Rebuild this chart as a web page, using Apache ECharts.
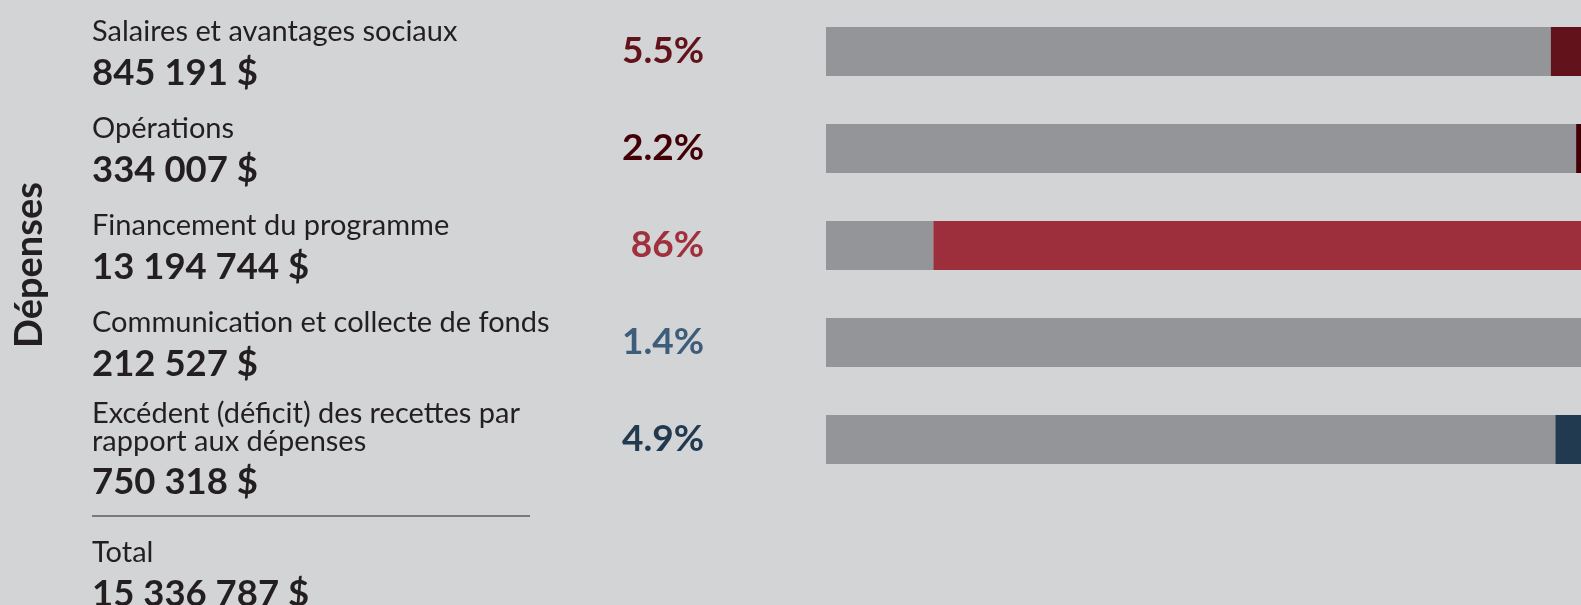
<!DOCTYPE html>
<html>
<head>
<meta charset="utf-8">
<script src="https://cdn.jsdelivr.net/npm/echarts@6/dist/echarts.min.js"></script>
<style>
html,body{margin:0;padding:0;background:#d3d4d6;}
#chart{width:1581px;height:605px;}
</style>
</head>
<body>
<div id="chart"></div>
<script>
// ---- data ----
const categories = [
  'Salaires et avantages sociaux',
  'Opérations',
  'Financement du programme',
  'Communication et collecte de fonds',
  'Excédent (déficit) des recettes par\nrapport aux dépenses'
];
const amounts = ['845 191 $', '334 007 $', '13 194 744 $', '212 527 $', '750 318 $'];
const percents = [5.5, 2.2, 86, 1.4, 4.9];
const percentLabels = ['5.5%', '2.2%', '86%', '1.4%', '4.9%'];
const axisTitle = 'Dépenses';
const totalLabel = 'Total';
const totalAmount = '15 336 787 $';

// ---- layout / styles ----
const barColors = ['#62121a', '#420006', '#9c2f3b', '#3d5d7a', '#223a50'];
const pctColors = ['#62121a', '#420006', '#a0303c', '#3d5d7a', '#223a50'];
const trackColor = '#949599';
const textColor = '#231f20';
const FONT = 'Lato, "Open Sans", sans-serif';
// full bar track is wider than what the canvas shows
const GRID_LEFT = 826, CHART_W = 1581, TRACK_W = 767;
const X_MAX_VISIBLE = 100 * (CHART_W - GRID_LEFT) / TRACK_W;

const chart = echarts.init(document.getElementById('chart'));

const remainder = percents.map(p => 100 - p);

function leftLabel(value, idx) {
  const lines = categories[idx].split('\n');
  if (lines.length === 1) {
    return '{a|' + lines[0] + '}\n{b|' + amounts[idx] + '}\n{c| }';
  }
  return lines.map(l => '{a2|' + l + '}').join('\n') + '\n{b|' + amounts[idx] + '}\n{d| }';
}

chart.setOption({
  backgroundColor: '#d3d4d6',
  animation: false,
  grid: {left: GRID_LEFT, right: 0, top: 3, height: 485},
  xAxis: {type: 'value', min: 0, max: X_MAX_VISIBLE, show: false},
  yAxis: {
    type: 'category',
    inverse: true,
    data: categories,
    axisLine: {show: false},
    axisTick: {show: false},
    axisLabel: {
      interval: 0,
      showMinLabel: true,
      showMaxLabel: true,
      hideOverlap: false,
      align: 'left',
      margin: 734,
      verticalAlign: 'middle',
      padding: [44, 0, 0, 0],
      formatter: leftLabel,
      rich: {
        a: {fontFamily: FONT, fontSize: 29, lineHeight: 30, color: textColor},
        a2: {fontFamily: FONT, fontSize: 29, lineHeight: 28, color: textColor},
        b: {fontFamily: FONT, fontSize: 36.5, fontWeight: 'bold', lineHeight: 53, color: textColor},
        c: {fontFamily: FONT, fontSize: 10, lineHeight: 30},
        d: {fontFamily: FONT, fontSize: 10, lineHeight: 15}
      }
    }
  },
  series: [
    {
      type: 'bar',
      stack: 'total',
      barWidth: 49,
      silent: true,
      clip: true,
      itemStyle: {color: trackColor},
      data: remainder.map((v, i) => ({
        value: v,
        label: {color: pctColors[i]}
      })),
      label: {
        show: true,
        position: 'left',
        distance: 122,
        fontFamily: FONT,
        fontSize: 37,
        fontWeight: 'bold',
        formatter: p => percentLabels[p.dataIndex]
      }
    },
    {
      type: 'bar',
      stack: 'total',
      barWidth: 49,
      silent: true,
      clip: true,
      data: percents.map((v, i) => ({value: v, itemStyle: {color: barColors[i]}}))
    }
  ],
  graphic: [
    {
      type: 'text',
      x: 30, y: 265,
      rotation: Math.PI / 2,
      style: {
        text: axisTitle,
        fontFamily: FONT, fontSize: 38, fontWeight: 'bold',
        fill: textColor, align: 'center', verticalAlign: 'middle'
      }
    },
    {
      type: 'line',
      shape: {x1: 92, y1: 516, x2: 530, y2: 516},
      style: {stroke: '#5d5d5f', lineWidth: 1.5}
    },
    {
      type: 'text',
      x: 92, y: 553,
      style: {
        text: totalLabel, fontFamily: FONT, fontSize: 29,
        fill: textColor, align: 'left', verticalAlign: 'middle'
      }
    },
    {
      type: 'text',
      x: 92, y: 594,
      style: {
        text: totalAmount, fontFamily: FONT, fontSize: 36.5, fontWeight: 'bold',
        fill: textColor, align: 'left', verticalAlign: 'middle'
      }
    }
  ]
});
</script>
</body>
</html>
